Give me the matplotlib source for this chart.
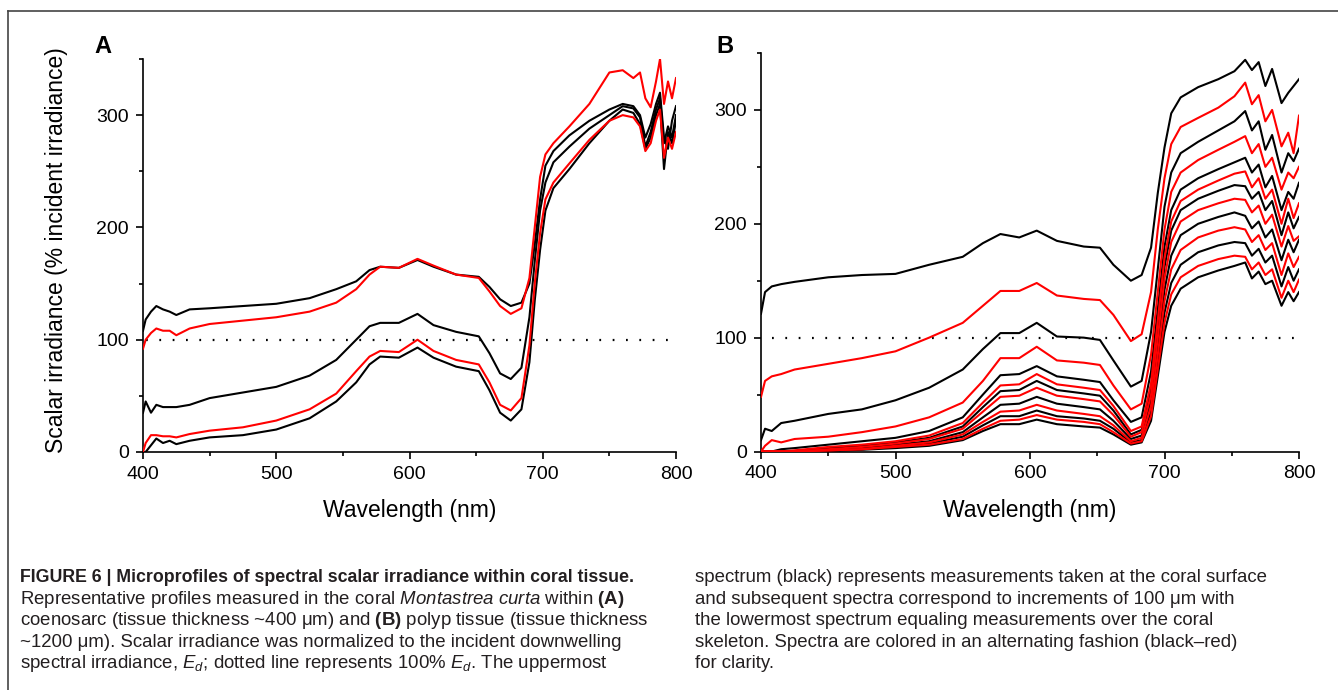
import matplotlib
matplotlib.use("Agg")
import matplotlib.pyplot as plt
from matplotlib.lines import Line2D
from matplotlib.ticker import MultipleLocator

# ---- panel A: coenosarc, 5 spectra (top = surface) ----
WL_A = [400, 402, 406, 410, 415, 420, 425, 435, 450, 475, 500, 525, 545, 560, 570, 578,
        592, 606, 618, 635, 652, 660, 668, 676, 684, 690, 694, 698, 702, 708, 720, 735,
        750, 760, 768, 773, 777, 781, 785, 788, 791, 794, 797, 800]
A1 = [108, 118, 125, 130, 127, 125, 122, 127, 128, 130, 132, 137, 145, 152, 162, 165,
      164, 171, 165, 158, 156, 147, 136, 130, 133, 150, 185, 225, 255, 268, 282, 295,
      305, 310, 308, 300, 280, 292, 310, 320, 280, 270, 295, 308]
A2 = [92, 100, 106, 110, 108, 108, 104, 110, 114, 117, 120, 125, 133, 145, 158, 165,
      164, 172, 166, 158, 155, 143, 130, 123, 128, 155, 200, 245, 265, 275, 290, 310,
      338, 340, 333, 338, 315, 307, 330, 350, 310, 330, 315, 333]
A3 = [35, 45, 35, 42, 40, 40, 40, 42, 48, 53, 58, 68, 82, 100, 112, 115,
      115, 123, 113, 107, 103, 88, 70, 65, 75, 120, 170, 215, 240, 258, 272, 288,
      300, 308, 306, 298, 272, 285, 305, 315, 275, 290, 280, 300]
A4 = [0, 8, 15, 15, 14, 14, 13, 16, 19, 22, 28, 38, 52, 72, 85, 90,
      89, 100, 90, 82, 78, 62, 42, 37, 48, 95, 150, 195, 225, 240, 257, 278,
      295, 300, 298, 290, 268, 275, 295, 305, 262, 280, 270, 285]
A5 = [0, 0, 6, 12, 8, 10, 7, 10, 13, 15, 20, 30, 45, 62, 78, 85,
      84, 93, 84, 76, 72, 55, 35, 28, 38, 80, 135, 180, 215, 235, 252, 275,
      295, 305, 302, 292, 270, 280, 300, 310, 252, 285, 275, 295]

# ---- panel B: polyp tissue, 13 spectra (top = surface) ----
WL_B = [400, 403, 408, 415, 425, 450, 475, 500, 525, 550, 565, 578, 592, 605, 620, 640,
        652, 662, 675, 683, 690, 695, 700, 705, 712, 725, 740, 752, 760, 765, 770, 775,
        780, 787, 792, 796, 800]
B1 = [121, 140, 145, 147, 149, 153, 155, 156, 164, 171, 183, 191, 188, 194, 185, 180,
      179, 164, 150, 155, 179, 227, 267, 297, 311, 320, 327, 334, 344, 335, 342, 321,
      336, 306, 315, 321, 327]
B2 = [48, 62, 66, 68, 72, 77, 82, 88, 100, 113, 128, 141, 141, 148, 137, 134,
      133, 120, 97, 103, 140, 195, 240, 270, 285, 293, 302, 312, 324, 305, 313, 290,
      300, 268, 280, 262, 295]
B3 = [10, 20, 18, 25, 27, 33, 37, 45, 56, 72, 90, 104, 104, 113, 101, 100,
      98, 80, 57, 62, 105, 160, 215, 245, 262, 272, 282, 290, 299, 282, 290, 265,
      278, 245, 262, 255, 266]
B4 = [0, 5, 10, 8, 11, 13, 17, 22, 30, 43, 62, 82, 82, 92, 80, 78,
      76, 58, 37, 42, 85, 140, 195, 228, 245, 256, 265, 272, 277, 262, 270, 250,
      258, 230, 245, 240, 250]
B5 = [0, 0, 0, 2, 3, 6, 9, 12, 18, 30, 50, 67, 68, 75, 66, 63,
      61, 45, 26, 30, 70, 125, 180, 212, 230, 240, 248, 254, 258, 245, 252, 232,
      242, 212, 228, 222, 236]
B6 = [0, 0, 0, 0, 1, 4, 6, 9, 14, 25, 43, 58, 59, 68, 59, 56,
      54, 40, 18, 22, 60, 115, 170, 202, 220, 230, 238, 244, 246, 232, 240, 222,
      230, 200, 222, 205, 218]
B7 = [0, 0, 0, 0, 0.5, 3, 5, 8, 12, 22, 39, 53, 54, 62, 54, 51,
      49, 36, 15, 19, 55, 108, 162, 194, 212, 222, 229, 234, 233, 222, 228, 212,
      220, 190, 210, 196, 206]
B8 = [0, 0, 0, 0, 0, 2, 4, 7, 11, 20, 35, 48, 49, 56, 49, 46,
      44, 32, 13, 17, 50, 100, 152, 184, 202, 212, 218, 222, 221, 210, 216, 200,
      208, 180, 198, 185, 189]
B9 = [0, 0, 0, 0, 0, 2, 3, 6, 9, 17, 30, 41, 42, 48, 42, 39,
      37, 27, 11, 14, 45, 92, 142, 172, 190, 200, 206, 210, 207, 196, 202, 188,
      195, 168, 186, 175, 186]
B10 = [0, 0, 0, 0, 0, 1, 2, 5, 8, 15, 26, 35, 36, 41, 36, 33,
       31, 23, 9, 12, 40, 85, 132, 160, 177, 188, 194, 197, 195, 184, 190, 177,
       183, 155, 174, 162, 171]
B11 = [0, 0, 0, 0, 0, 1, 2, 4, 7, 13, 23, 31, 31, 36, 31, 29,
       27, 20, 8, 10, 35, 78, 122, 148, 164, 175, 181, 184, 183, 172, 178, 166,
       172, 145, 162, 150, 160]
B12 = [0, 0, 0, 0, 0, 1, 2, 4, 6, 11, 20, 27, 28, 32, 28, 26,
       24, 17, 7, 9, 31, 72, 113, 138, 153, 163, 169, 172, 171, 160, 166, 155,
       160, 135, 150, 140, 151]
B13 = [0, 0, 0, 0, 0, 0.5, 1.5, 3, 5, 10, 18, 24, 24, 28, 24, 22,
       21, 15, 6, 8, 27, 66, 105, 128, 143, 153, 159, 163, 166, 152, 158, 147,
       150, 128, 140, 132, 140]

REF_LEVEL = 100  # 100 % E_d
X_TICKS = [400, 500, 600, 700, 800]
Y_TICKS = [0, 100, 200, 300]

CAPTION_TITLE = "FIGURE 6 | Microprofiles of spectral scalar irradiance within coral tissue."
CAPTION_LEFT = [
    r"Representative profiles measured in the coral $\mathit{Montastrea\ curta}$ within $\mathbf{(A)}$",
    r"coenosarc (tissue thickness ~400 μm) and $\mathbf{(B)}$ polyp tissue (tissue thickness",
    r"~1200 μm). Scalar irradiance was normalized to the incident downwelling",
    r"spectral irradiance, $E_d$; dotted line represents 100% $E_d$. The uppermost",
]
CAPTION_RIGHT = [
    "spectrum (black) represents measurements taken at the coral surface",
    "and subsequent spectra correspond to increments of 100 μm with",
    "the lowermost spectrum equaling measurements over the coral",
    "skeleton. Spectra are colored in an alternating fashion (black–red)",
    "for clarity.",
]

CAP_FONT = "Liberation Sans"
plt.rcParams["font.family"] = ["Liberation Sans", "DejaVu Sans"]
plt.rcParams["mathtext.fontset"] = "custom"
plt.rcParams["mathtext.rm"] = CAP_FONT
plt.rcParams["mathtext.it"] = CAP_FONT + ":italic"
plt.rcParams["mathtext.bf"] = CAP_FONT + ":bold"

W, H = 1338, 690
fig = plt.figure(figsize=(W / 100, H / 100), dpi=100)


def px_axes(left, top, right, bottom):
    return fig.add_axes([left / W, 1 - bottom / H, (right - left) / W, (bottom - top) / H])


def style_panel(ax, letter, letter_x, dots_from):
    ax.set_xlim(400, 800)
    ax.set_ylim(0, 350)
    ax.spines[["top", "right"]].set_visible(False)
    for s in ("left", "bottom"):
        ax.spines[s].set_linewidth(1.2)
    ax.set_xticks(X_TICKS)
    ax.set_yticks(Y_TICKS)
    ax.xaxis.set_minor_locator(MultipleLocator(50))
    ax.yaxis.set_minor_locator(MultipleLocator(50))
    ax.tick_params(which="major", direction="out", length=5, width=1.2, labelsize=14, pad=5)
    ax.tick_params(which="minor", direction="out", length=2.8, width=1.2)
    ax.set_xlabel("Wavelength (nm)", fontsize=16.5)
    ax.xaxis.set_label_coords(0.5, -0.12)
    ax.hlines(REF_LEVEL, dots_from, 796, colors="black", linewidth=1.6,
              linestyles=(0, (0.8, 5.2)))
    fig.text(letter_x / W, 1 - 53 / H, letter, fontsize=17, fontweight="bold", va="baseline")


def draw_spectra(ax, wl, spectra):
    # alternating black / red, surface first
    for i, vals in enumerate(spectra):
        ax.plot(wl, vals, color="black" if i % 2 == 0 else "#ff0000", linewidth=1.5,
                solid_joinstyle="round", zorder=3 if i % 2 else 2)


axA = px_axes(143, 59, 676, 452)
draw_spectra(axA, WL_A, [A1, A2, A3, A4, A5])
style_panel(axA, "A", 94, 402)

axB = px_axes(761, 53, 1299, 451.5)
draw_spectra(axB, WL_B, [B1, B2, B3, B4, B5, B6, B7, B8, B9, B10, B11, B12, B13])
style_panel(axB, "B", 716, 408)

fig.text(57 / W, 1 - 250 / H, "Scalar irradiance (% incident irradiance)", rotation=90,
         ha="center", va="center", fontsize=16.5)

# ---- frame and caption ----
fig.add_artist(Line2D([8 / W, 1], [1 - 11 / H] * 2, color="#444444", linewidth=1.2))
fig.add_artist(Line2D([8 / W] * 2, [0, 1 - 11 / H], color="#444444", linewidth=1.2))

fig.text(20 / W, 1 - 582 / H, CAPTION_TITLE, fontsize=12.8, fontweight="bold",
         va="baseline", color="#231f20")
for i, line in enumerate(CAPTION_LEFT, start=1):
    fig.text(20 / W, 1 - (582 + 21.6 * i) / H, line, fontsize=13.4,
             va="baseline", color="#231f20")
for i, line in enumerate(CAPTION_RIGHT):
    fig.text(695 / W, 1 - (582 + 21.6 * i) / H, line, fontsize=13.4,
             va="baseline", color="#231f20")

fig.savefig("out.png", dpi=100)
